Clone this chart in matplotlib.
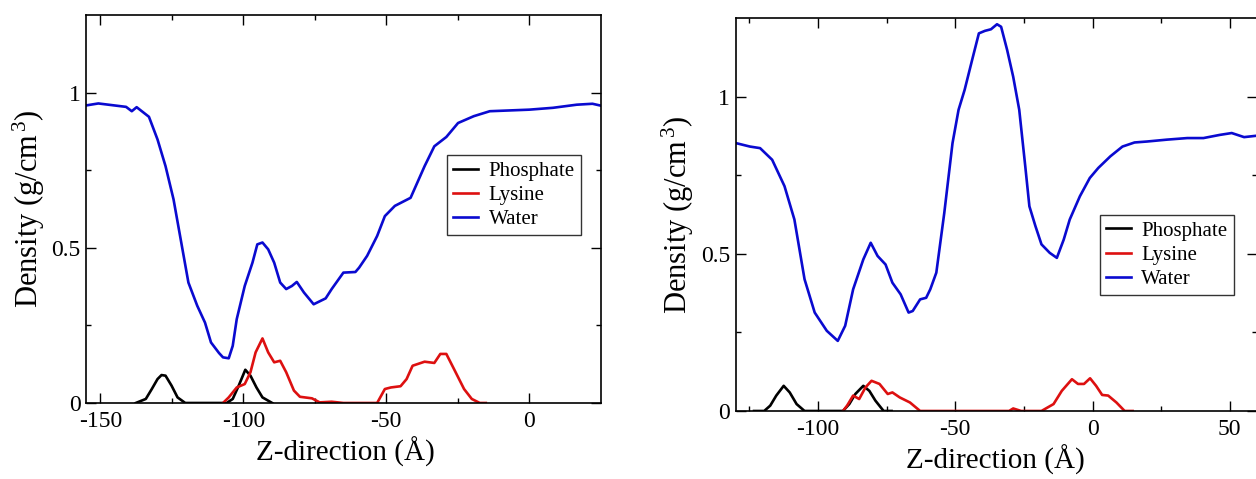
import matplotlib
matplotlib.use("Agg")
import matplotlib.pyplot as plt

plt.rcParams["font.family"] = ["Liberation Serif", "DejaVu Serif"]
plt.rcParams["mathtext.fontset"] = "custom"
plt.rcParams["mathtext.rm"] = "Liberation Serif"
plt.rcParams["mathtext.it"] = "Liberation Serif:italic"
plt.rcParams["axes.unicode_minus"] = False

# ---- left panel data (z in Angstrom, density in g/cm^3) ----
left_water_z = [-155.4, -150.7, -141.0, -139.0, -137.3, -133.0, -130.0, -127.2, -124.4, -121.7,
                -119.2, -116.1, -113.4, -111.3, -108.5, -107.1, -105.1, -103.7, -102.3, -99.5,
                -96.8, -95.1, -93.3, -91.3, -89.2, -87.1, -85.0, -83.0, -81.3, -78.8,
                -75.4, -71.2, -69.1, -65.0, -60.8, -59.5, -56.7, -53.2, -50.5, -47.0,
                -41.5, -40.2, -36.6, -33.2, -29.0, -24.9, -19.4, -13.8, -5.5, 0.0,
                8.3, 16.6, 22.1, 25.0]
left_water_d = [0.958, 0.965, 0.954, 0.940, 0.953, 0.922, 0.849, 0.763, 0.656, 0.517,
                0.388, 0.313, 0.259, 0.195, 0.161, 0.147, 0.144, 0.184, 0.270, 0.377,
                0.452, 0.511, 0.517, 0.495, 0.452, 0.388, 0.367, 0.377, 0.390, 0.356,
                0.318, 0.337, 0.367, 0.420, 0.422, 0.436, 0.474, 0.538, 0.602, 0.635,
                0.661, 0.688, 0.763, 0.827, 0.857, 0.902, 0.924, 0.940, 0.943, 0.945,
                0.951, 0.961, 0.964, 0.958]

left_phos_z = [-137.6, -134.1, -132.0, -130.0, -128.6, -127.2, -125.1, -123.0, -120.3, -105.8,
               -103.7, -101.6, -99.3, -97.5, -95.4, -93.3, -89.9]
left_phos_d = [0.0, 0.013, 0.045, 0.077, 0.090, 0.088, 0.056, 0.018, 0.0, 0.0,
               0.013, 0.056, 0.107, 0.088, 0.050, 0.018, 0.0]

left_lys_z = [-107.1, -105.1, -102.3, -99.5, -97.5, -95.7, -93.3, -91.3, -89.2, -87.1,
              -85.0, -82.3, -80.2, -76.0, -73.3, -69.1, -65.0, -53.2, -50.5, -48.4,
              -45.0, -42.9, -40.8, -36.6, -33.2, -31.1, -29.0, -26.3, -22.8, -20.1,
              -17.3, -15.2]
left_lys_d = [0.0, 0.018, 0.050, 0.061, 0.099, 0.163, 0.208, 0.163, 0.131, 0.136,
              0.099, 0.040, 0.020, 0.015, 0.002, 0.004, 0.0, 0.0, 0.045, 0.050,
              0.054, 0.077, 0.120, 0.133, 0.129, 0.158, 0.158, 0.109, 0.045, 0.013,
              0.0, 0.0]

# ---- right panel data ----
right_water_z = [-129.9, -124.8, -121.1, -116.7, -112.2, -108.6, -104.9, -101.2, -96.8, -92.8,
                 -90.1, -87.2, -83.5, -80.8, -78.3, -75.4, -72.9, -69.9, -67.0, -65.5,
                 -62.8, -60.6, -59.1, -56.9, -54.0, -51.0, -48.8, -46.6, -43.7, -41.4,
                 -39.2, -37.0, -34.8, -33.3, -31.1, -28.9, -26.7, -24.5, -23.0, -20.8,
                 -18.6, -15.6, -13.0, -10.5, -8.3, -4.6, -1.0, 2.1, 6.5, 10.9,
                 15.3, 19.8, 27.1, 34.5, 40.4, 46.3, 50.7, 55.2, 59.3]
right_water_d = [0.852, 0.841, 0.836, 0.799, 0.715, 0.609, 0.419, 0.313, 0.255, 0.223,
                 0.271, 0.387, 0.482, 0.535, 0.493, 0.466, 0.408, 0.371, 0.313, 0.318,
                 0.355, 0.360, 0.387, 0.440, 0.630, 0.852, 0.958, 1.021, 1.122, 1.201,
                 1.209, 1.214, 1.230, 1.222, 1.148, 1.063, 0.958, 0.778, 0.651, 0.588,
                 0.530, 0.503, 0.487, 0.545, 0.609, 0.683, 0.741, 0.773, 0.810, 0.841,
                 0.854, 0.857, 0.863, 0.868, 0.868, 0.878, 0.884, 0.871, 0.875]

right_phos_z = [-123.3, -119.6, -117.4, -115.2, -112.5, -110.3, -107.8, -104.9, -90.9, -88.6,
                -86.4, -83.5, -81.3, -79.1, -76.1, -73.2]
right_phos_d = [0.0, 0.0, 0.017, 0.049, 0.080, 0.059, 0.022, 0.0, 0.0, 0.022,
                0.054, 0.080, 0.064, 0.033, 0.0, 0.0]

right_lys_z = [-90.9, -89.4, -87.2, -85.0, -82.7, -80.5, -77.6, -74.6, -72.9, -70.2,
               -66.5, -62.8, -30.4, -28.9, -26.0, -18.6, -14.2, -11.2, -7.5, -5.3,
               -3.1, -0.9, 1.3, 3.5, 5.7, 8.7, 11.7, 14.6]
right_lys_d = [0.0, 0.017, 0.049, 0.038, 0.075, 0.096, 0.086, 0.054, 0.059, 0.043,
               0.027, 0.0, 0.0, 0.008, 0.0, 0.0, 0.022, 0.064, 0.101, 0.086,
               0.086, 0.104, 0.080, 0.051, 0.049, 0.027, 0.0, 0.0]

BLACK = "#000000"
RED = "#dd1010"
BLUE = "#0a0ad0"
LW = 1.9


def style_axes(ax, xlim, xticks, xminor):
    ax.set_xlim(*xlim)
    ax.set_ylim(0, 1.25)
    ax.set_xticks(xticks)
    ax.set_xticks(xminor, minor=True)
    ax.set_yticks([0, 0.5, 1])
    ax.set_yticklabels(["0", "0.5", "1"])
    ax.set_yticks([0.25, 0.75], minor=True)
    ax.tick_params(which="both", direction="in", top=True, right=True,
                   labelsize=17, width=1.0)
    ax.tick_params(axis="x", pad=6)
    ax.tick_params(axis="y", pad=4)
    ax.tick_params(which="major", length=7)
    ax.tick_params(which="minor", length=3.5)
    for sp in ax.spines.values():
        sp.set_linewidth(1.2)
    ax.set_xlabel("Z-direction (Å)", fontsize=21)
    ax.set_ylabel("Density (g/cm$^{\\,3}$)", fontsize=22)


def draw_panel(ax, phos, lys, water, legend_anchor):
    ax.plot(*phos, color=BLACK, lw=LW, label="Phosphate")
    ax.plot(*lys, color=RED, lw=LW, label="Lysine")
    ax.plot(*water, color=BLUE, lw=LW, label="Water")
    leg = ax.legend(loc="upper left", bbox_to_anchor=legend_anchor, fontsize=15,
                    fancybox=False, framealpha=1, edgecolor="#333333",
                    handlelength=1.2, handletextpad=0.5, labelspacing=0.22,
                    borderpad=0.3, borderaxespad=0)
    leg.get_frame().set_linewidth(1.0)


fig = plt.figure(figsize=(12.56, 4.79), dpi=100)

ax1 = fig.add_axes([0.0685, 0.1587, 0.4098, 0.810])
draw_panel(ax1, (left_phos_z, left_phos_d), (left_lys_z, left_lys_d),
           (left_water_z, left_water_d), (0.701, 0.639))
style_axes(ax1, (-155, 25), [-150, -100, -50, 0], [-125, -75, -25])
ax1.xaxis.set_label_coords(0.503, -0.088)
ax1.yaxis.set_label_coords(-0.075, 0.5)

ax2 = fig.add_axes([0.5857, 0.142, 0.4153, 0.8205])
draw_panel(ax2, (right_phos_z, right_phos_d), (right_lys_z, right_lys_d),
           (right_water_z, right_water_d), (0.698, 0.499))
style_axes(ax2, (-130, 60), [-100, -50, 0, 50], [-125, -75, -25, 25])
ax2.xaxis.set_label_coords(0.497, -0.085)
ax2.yaxis.set_label_coords(-0.076, 0.5)

fig.savefig("out.png", dpi=100)
